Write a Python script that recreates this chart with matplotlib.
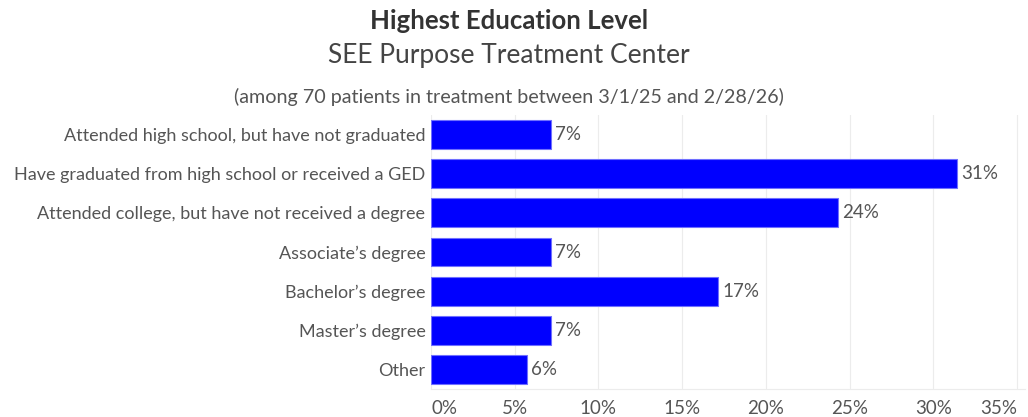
import matplotlib.pyplot as plt
from matplotlib.ticker import FuncFormatter

categories = [
    "Attended high school, but have not graduated",
    "Have graduated from high school or received a GED",
    "Attended college, but have not received a degree",
    "Associate\u2019s degree",
    "Bachelor\u2019s degree",
    "Master\u2019s degree",
    "Other",
]
counts = [5, 22, 17, 5, 12, 5, 4]
total = 70
pct = [c / total * 100 for c in counts]
xticks = [0, 5, 10, 15, 20, 25, 30, 35]

plt.rcParams['font.family'] = ['Lato', 'DejaVu Sans']
grey = '#555555'

fig = plt.figure(figsize=(10.28, 4.17), dpi=100)
ax = fig.add_axes([431 / 1028, 1 - 389 / 417, (1025 - 431) / 1028, (389 - 115) / 417])

y = list(range(len(categories)))
ax.barh(y, pct, height=0.74, color='#0000ff', edgecolor='#6f6fff', linewidth=0.8, zorder=3)
for yi, p in zip(y, pct):
    ax.text(p + 0.25, yi, f"{p:.0f}%", va='center', ha='left', fontsize=13.5, color=grey)

ax.set_ylim(len(categories) - 0.5, -0.5)
ax.set_xlim(0, 35.48)
ax.set_yticks(y)
ax.set_yticklabels(categories, fontsize=13, color=grey)
ax.set_xticks(xticks)
ax.xaxis.set_major_formatter(FuncFormatter(lambda v, _: f"{v:.0f}%"))
ax.tick_params(axis='x', labelsize=13.5, labelcolor=grey, length=0, pad=8)
ax.tick_params(axis='y', length=0, pad=4)
labels = ax.get_xticklabels()
labels[0].set_ha('left')
labels[-1].set_ha('right')

ax.grid(axis='x', color='#ececec', linewidth=0.8, zorder=0)
for s in ['top', 'right', 'left']:
    ax.spines[s].set_visible(False)
ax.spines['bottom'].set_color('#ececec')

fig.text(509 / 1028, 1 - 21 / 417, "Highest Education Level", ha='center', va='center',
         fontsize=18.5, fontweight='bold', color='#333333')
fig.text(509 / 1028, 1 - 55 / 417, "SEE Purpose Treatment Center", ha='center', va='center',
         fontsize=19, color='#444444')
fig.text(509 / 1028, 1 - 97 / 417, "(among 70 patients in treatment between 3/1/25 and 2/28/26)",
         ha='center', va='center', fontsize=14.2, color=grey)

fig.savefig('out.png', dpi=100)
